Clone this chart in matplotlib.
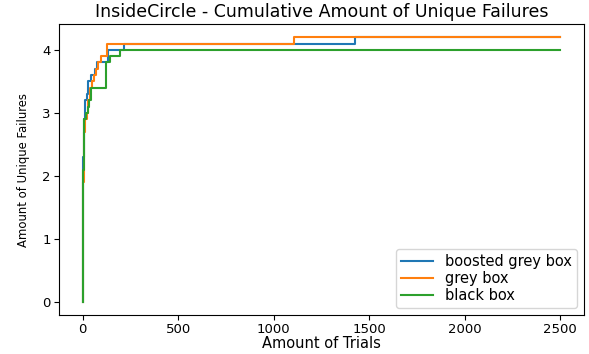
import matplotlib
matplotlib.use("Agg")
import matplotlib.pyplot as plt

# trial at which each mean count of unique failures is reached
boosted_trials = [0, 1, 2, 3, 5, 7, 10, 12, 20, 25, 45, 63, 76, 130, 215, 1425, 2500]
boosted_values = [0, 1.0, 1.8, 2.3, 2.6, 2.9, 3.0, 3.2, 3.3, 3.5, 3.6, 3.7, 3.8, 4.0, 4.1, 4.2, 4.2]

grey_trials = [0, 1, 2, 3, 5, 8, 14, 20, 30, 40, 50, 60, 70, 78, 97, 128, 1108, 2500]
grey_values = [0, 0.6, 1.5, 1.9, 2.4, 2.7, 2.9, 3.0, 3.2, 3.4, 3.5, 3.6, 3.7, 3.8, 3.9, 4.1, 4.2, 4.2]

black_trials = [0, 1, 2, 3, 5, 7, 18, 30, 35, 42, 123, 142, 194, 2500]
black_values = [0, 0.8, 1.6, 2.1, 2.5, 2.9, 3.0, 3.1, 3.2, 3.4, 3.8, 3.9, 4.0, 4.0]

fig = plt.figure(figsize=(5.89, 3.54), dpi=100)
ax = fig.add_axes([0.100, 0.110, 0.8915, 0.822])

ax.plot(boosted_trials, boosted_values, drawstyle='steps-post', label='boosted grey box')
ax.plot(grey_trials, grey_values, drawstyle='steps-post', label='grey box')
ax.plot(black_trials, black_values, drawstyle='steps-post', label='black box')

ax.set_title('InsideCircle - Cumulative Amount of Unique Failures', fontsize=12.5, pad=5)
ax.set_xlabel('Amount of Trials', fontsize=10.5, labelpad=0)
ax.set_ylabel('Amount of Unique Failures', fontsize=8.4, labelpad=9)
ax.tick_params(labelsize=9.5, pad=2.5)
ax.set_xticks([0, 500, 1000, 1500, 2000, 2500])
ax.set_yticks([0, 1, 2, 3, 4])
ax.legend(loc='lower right', fontsize=10.5, labelspacing=0.12, borderpad=0.35,
          handlelength=2.2)

fig.savefig('out.png', dpi=100)
